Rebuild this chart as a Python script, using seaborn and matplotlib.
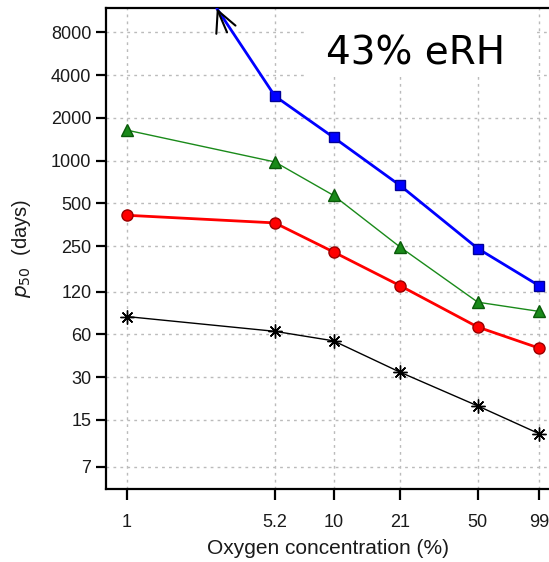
import numpy as np
import pandas as pd
import matplotlib
matplotlib.use("Agg")
import matplotlib.pyplot as plt
from matplotlib.patches import Rectangle
import seaborn as sns

# -- data --
oxygen = [1, 5.2, 10, 21, 50, 99]
blue_sq = [np.nan, 2850, 1460, 670, 241, 132]
green_tri = [1640, 980, 570, 247, 101, 87]
red_circ = [413, 365, 228, 132, 67.5, 48]
black_star = [80, 63, 54, 32.5, 18.8, 12.0]

yticks = [7, 15, 30, 60, 120, 250, 500, 1000, 2000, 4000, 8000]
xticks = [1, 5.2, 10, 21, 50, 99]
xtick_labels = ["1", "5.2", "10", "21", "50", "99"]

# blue curve leaves the top of the plot -> arrow tip
arrow_tip = (2.72, 11800)

sns.set_style("white")
plt.rcParams["font.family"] = ["Liberation Sans", "DejaVu Sans"]

fig = plt.figure(figsize=(5.49, 5.62), dpi=100)
ax = fig.add_axes([0.193, 0.130, 0.809, 0.856])

series = [
    (black_star, "black", (8, 2, 0), 1.0, 10, "black"),
    (red_circ, "#ff0000", "o", 2.0, 8, "#990000"),
    (green_tri, "#1a8a1a", "^", 1.0, 8, "#0a5a0a"),
    (blue_sq, "#0000ff", "s", 2.0, 7, "#000099"),
]
for vals, col, mk, lw, ms, ec in series:
    df = pd.DataFrame({"x": oxygen, "y": vals}).dropna()
    sns.lineplot(data=df, x="x", y="y", ax=ax, color=col, lw=lw,
                 marker=mk, markersize=ms, markeredgecolor=ec,
                 markeredgewidth=1.0, zorder=3)

# blue segment going off the top, with open black arrow head
ax.plot([oxygen[1], arrow_tip[0]], [blue_sq[1], arrow_tip[1]],
        color="#0000ff", lw=2.0, zorder=3)
ax.annotate("", xy=arrow_tip, xytext=(3.05, 8000),
            arrowprops=dict(arrowstyle="->,head_length=0.6,head_width=0.3",
                            color="black", lw=1.5, mutation_scale=25,
                            shrinkA=0, shrinkB=0), zorder=4)

ax.set_xscale("log")
ax.set_yscale("log")
ax.set_xlim(0.79, 112)
ax.set_ylim(4.9, 11900)
ax.set_xticks(xticks)
ax.set_xticklabels(xtick_labels)
ax.set_yticks(yticks)
ax.set_yticklabels([str(t) for t in yticks])
ax.minorticks_off()

ax.grid(True, ls=(0, (2, 3)), color="#bbbbbb", lw=1.0)
ax.tick_params(axis="both", direction="out", width=1.6,
               labelsize=13, color="black", labelcolor="#1a1a1a",
               bottom=True, left=True)
ax.tick_params(axis="x", length=8, pad=10)
ax.tick_params(axis="y", length=7.5, pad=3)
for s in ["left", "bottom", "top"]:
    ax.spines[s].set_linewidth(1.6)
    ax.spines[s].set_color("black")
ax.spines["right"].set_visible(False)

ax.set_xlabel("Oxygen concentration (%)", fontsize=15, labelpad=6,
              color="#1a1a1a")
ax.set_ylabel(r"$p_{50}$  (days)", fontsize=14.5, labelpad=13,
              color="#1a1a1a")

# white label box hiding the grid behind the title text
ax.add_patch(Rectangle((0.448, 0.857), 0.514, 0.143, transform=ax.transAxes,
                       facecolor="white", edgecolor="none", zorder=2))
ax.text(0.696, 0.905, "43% eRH", transform=ax.transAxes, fontsize=28,
        family="DejaVu Sans", ha="center", va="center", color="black",
        zorder=5)

fig.savefig("out.png", dpi=100)
